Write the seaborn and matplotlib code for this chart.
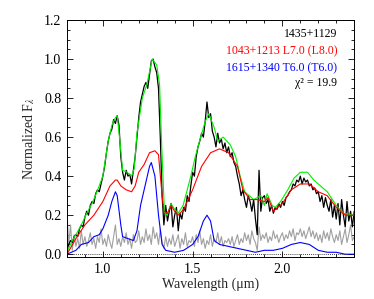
import numpy as np
import pandas as pd
import matplotlib
matplotlib.use("Agg")
import matplotlib.pyplot as plt
import seaborn as sns
from matplotlib.ticker import MultipleLocator

# ---------------- data ----------------
grid_start, grid_step = 0.80, 0.01
obs_flux = [
    0.02, 0.05, 0.07, 0.06, 0.09, 0.10, 0.09, 0.13, 0.15, 0.14,
    0.19, 0.22, 0.20, 0.25, 0.27, 0.26, 0.31, 0.33, 0.32, 0.36,
    0.40, 0.45, 0.52, 0.58, 0.62, 0.64, 0.69, 0.67, 0.71, 0.66,
    0.50, 0.42, 0.38, 0.43, 0.40, 0.41, 0.36, 0.43, 0.50, 0.60,
    0.70, 0.78, 0.82, 0.86, 0.88, 0.85, 0.92, 0.99, 1.00, 0.96,
    0.93, 0.85, 0.60, 0.30, 0.15, 0.25, 0.17, 0.22, 0.26, 0.14,
    0.20, 0.24, 0.12, 0.21, 0.18, 0.24, 0.22, 0.30, 0.27, 0.35,
    0.42, 0.40, 0.50, 0.55, 0.58, 0.62, 0.60, 0.68, 0.78, 0.70,
    0.72, 0.63, 0.60, 0.55, 0.62, 0.57, 0.59, 0.54, 0.57, 0.52,
    0.55, 0.50, 0.52, 0.47, 0.45, 0.40, 0.36, 0.30, 0.33, 0.28,
    0.24, 0.30, 0.27, 0.22, 0.28, 0.18, 0.10, 0.43, 0.22, 0.29,
    0.30, 0.26, 0.28, 0.22, 0.25, 0.21, 0.24, 0.23, 0.26, 0.24,
    0.27, 0.25, 0.29, 0.30, 0.32, 0.33, 0.36, 0.35, 0.38, 0.37,
    0.40, 0.36, 0.39, 0.37, 0.38, 0.35, 0.36, 0.33, 0.34, 0.31,
    0.32, 0.27, 0.30, 0.24, 0.29, 0.25, 0.22, 0.28, 0.19, 0.25,
    0.18, 0.26, 0.15, 0.28, 0.20, 0.14, 0.27, 0.17, 0.22, 0.14, 0.22,
]
noise_flux = [
    0.22, 0.05, 0.15, 0.02, 0.10, 0.04, 0.08, 0.03, 0.12, 0.05,
    0.09, 0.04, 0.07, 0.11, 0.05, 0.08, 0.03, 0.09, 0.06, 0.13,
    0.05, 0.08, 0.04, 0.10, 0.06, 0.03, 0.09, 0.15, 0.05, 0.08,
    0.04, 0.09, 0.06, 0.11, 0.05, 0.08, 0.03, 0.10, 0.06, 0.07,
    0.12, 0.05, 0.09, 0.06, 0.13, 0.07, 0.10, 0.05, 0.14, 0.08,
    0.11, 0.05, 0.13, 0.06, 0.03, 0.09, 0.04, 0.08, 0.05, 0.10,
    0.04, 0.07, 0.10, 0.03, 0.08, 0.05, 0.11, 0.04, 0.07, 0.06,
    0.09, 0.04, 0.10, 0.06, 0.12, 0.05, 0.08, 0.03, 0.07, 0.05,
    0.10, 0.04, 0.08, 0.06, 0.11, 0.05, 0.09, 0.04, 0.07, 0.06,
    0.08, 0.05, 0.09, 0.04, 0.07, 0.10, 0.05, 0.08, 0.06, 0.11,
    0.07, 0.10, 0.05, 0.12, 0.08, 0.06, 0.02, 0.14, 0.07, 0.10,
    0.08, 0.11, 0.06, 0.09, 0.07, 0.12, 0.08, 0.10, 0.06, 0.09,
    0.11, 0.07, 0.10, 0.08, 0.12, 0.09, 0.13, 0.07, 0.11, 0.10,
    0.13, 0.09, 0.12, 0.08, 0.11, 0.14, 0.09, 0.12, 0.08, 0.11,
    0.07, 0.10, 0.06, 0.12, 0.08, 0.11, 0.07, 0.13, 0.09, 0.06,
    0.10, 0.07, 0.12, 0.05, 0.09, 0.13, 0.06, 0.10, 0.15, 0.07, 0.09,
]

combo_wave = [0.80, 0.83, 0.856, 0.88, 0.91, 0.94, 0.967, 1.00, 1.03, 1.05, 1.07, 1.08,
              1.095, 1.11, 1.135, 1.16, 1.175, 1.19, 1.22, 1.245, 1.275, 1.30, 1.316,
              1.328, 1.343, 1.357, 1.38, 1.40, 1.42, 1.447, 1.47, 1.49, 1.515, 1.545,
              1.57, 1.59, 1.62, 1.64, 1.67, 1.71, 1.74, 1.765, 1.79, 1.84, 1.88, 1.90,
              1.915, 1.943, 1.96, 1.99, 2.03, 2.065, 2.10, 2.14, 2.175, 2.25, 2.30,
              2.34, 2.40]
combo_flux = [0.01, 0.07, 0.11, 0.15, 0.21, 0.26, 0.32, 0.40, 0.58, 0.66, 0.70, 0.71,
              0.58, 0.43, 0.42, 0.40, 0.44, 0.62, 0.80, 0.87, 1.00, 0.97, 0.87,
              0.55, 0.22, 0.20, 0.26, 0.23, 0.21, 0.25, 0.33, 0.40, 0.50, 0.60,
              0.68, 0.72, 0.65, 0.58, 0.60, 0.56, 0.50, 0.40, 0.32, 0.28, 0.30, 0.25,
              0.31, 0.25, 0.24, 0.27, 0.33, 0.39, 0.42, 0.42, 0.38, 0.32, 0.25,
              0.21, 0.20]

l7_wave = [0.80, 0.85, 0.90, 0.95, 1.00, 1.04, 1.07, 1.08, 1.10, 1.13, 1.16, 1.18,
           1.20, 1.23, 1.26, 1.29, 1.31, 1.33, 1.34, 1.36, 1.38, 1.40, 1.42, 1.45,
           1.50, 1.55, 1.60, 1.65, 1.70, 1.75, 1.78, 1.82, 1.86, 1.90, 1.92, 1.95,
           2.00, 2.05, 2.10, 2.15, 2.20, 2.25, 2.30, 2.35, 2.40]
l7_flux = [0.00, 0.08, 0.15, 0.20, 0.27, 0.35, 0.38, 0.38, 0.35, 0.33, 0.32, 0.35,
           0.42, 0.46, 0.52, 0.53, 0.51, 0.30, 0.22, 0.21, 0.25, 0.22, 0.20, 0.23,
           0.33, 0.45, 0.52, 0.54, 0.52, 0.45, 0.33, 0.28, 0.28, 0.27, 0.29, 0.22,
           0.26, 0.33, 0.36, 0.36, 0.32, 0.30, 0.24, 0.20, 0.20]

t6_wave = [0.80, 0.85, 0.88, 0.92, 0.95, 0.98, 1.00, 1.03, 1.05, 1.07, 1.08, 1.10,
           1.11, 1.14, 1.17, 1.19, 1.21, 1.24, 1.26, 1.27, 1.29, 1.31, 1.33, 1.35,
           1.40, 1.45, 1.50, 1.53, 1.56, 1.58, 1.60, 1.62, 1.65, 1.70, 1.75, 1.80,
           1.85, 1.90, 1.95, 2.00, 2.05, 2.10, 2.15, 2.20, 2.25, 2.30, 2.35, 2.40]
t6_flux = [0.00, 0.02, 0.05, 0.06, 0.09, 0.10, 0.13, 0.20, 0.27, 0.32, 0.30, 0.15,
           0.09, 0.08, 0.07, 0.12, 0.25, 0.37, 0.45, 0.47, 0.40, 0.20, 0.05, 0.02,
           0.01, 0.02, 0.05, 0.09, 0.17, 0.20, 0.17, 0.07, 0.05, 0.04, 0.03, 0.02,
           0.01, 0.02, 0.02, 0.03, 0.05, 0.06, 0.05, 0.02, 0.01, 0.01, 0.00, 0.00]

label_obs = "1435+1129"
label_l7 = "1043+1213 L7.0 (L8.0)"
label_t6 = "1615+1340 T6.0 (T6.0)"
label_chi = "χ² = 19.9"

# ---------------- plot ----------------
sns.set_style("ticks")
plt.rcParams['font.family'] = ['Liberation Serif', 'DejaVu Serif']
plt.rcParams['mathtext.fontset'] = 'stix'

grid = grid_start + grid_step * np.arange(len(obs_flux))
df_obs = pd.DataFrame({"w": grid, "f": obs_flux, "n": noise_flux})

fig = plt.figure(figsize=(3.74, 2.99), dpi=100)
ax = fig.add_axes([0.179, 0.140, 0.768, 0.793])

lw = 0.8
sns.lineplot(data=df_obs, x="w", y="n", ax=ax, color="#a0a0a0", lw=lw,
             estimator=None, sort=False)
sns.lineplot(data=df_obs, x="w", y="f", ax=ax, color="black", lw=0.9,
             estimator=None, sort=False)
sns.lineplot(x=combo_wave, y=combo_flux, ax=ax, color="#00f000", lw=lw,
             estimator=None, sort=False)
sns.lineplot(x=l7_wave, y=l7_flux, ax=ax, color="#ff0000", lw=lw,
             estimator=None, sort=False)
sns.lineplot(x=t6_wave, y=t6_flux, ax=ax, color="#0000ff", lw=lw,
             estimator=None, sort=False)
ax.axhline(0, color="black", ls=(0, (1, 1.5)), lw=0.6)

ax.set_xlim(0.8, 2.4)
ax.set_ylim(-0.015, 1.2)
ax.xaxis.set_major_locator(MultipleLocator(0.5))
ax.xaxis.set_minor_locator(MultipleLocator(0.1))
ax.yaxis.set_major_locator(MultipleLocator(0.2))
ax.yaxis.set_minor_locator(MultipleLocator(0.05))
ax.set_xticks([1.0, 1.5, 2.0])
ax.set_xticklabels(["1.0", "1.5", "2.0"])
ax.set_yticks([0.0, 0.2, 0.4, 0.6, 0.8, 1.0, 1.2])
ax.set_yticklabels(["0.0", "0.2", "0.4", "0.6", "0.8", "1.0", "1.2"])
ax.tick_params(which="both", direction="in", top=True, right=True,
               labelsize=10, width=0.6, colors="black")
ax.tick_params(which="major", length=4.5, pad=4)
ax.tick_params(which="minor", length=2.2)
for s in ax.spines.values():
    s.set_linewidth(0.7)
    s.set_color("black")

ax.set_xlabel("Wavelength (μm)", fontsize=10, labelpad=1)
ax.set_ylabel(r"Normalized F$_\lambda$", fontsize=10, labelpad=5)

tx = 0.941
for txt, col, ty in [(label_obs, "black", 0.941), (label_l7, "#ff0000", 0.867),
                     (label_t6, "#0000ff", 0.797), (label_chi, "black", 0.735)]:
    ax.text(tx, ty, txt, color=col, fontsize=8.5, ha="right", va="center",
            transform=ax.transAxes)

fig.savefig("out.png", dpi=100)
